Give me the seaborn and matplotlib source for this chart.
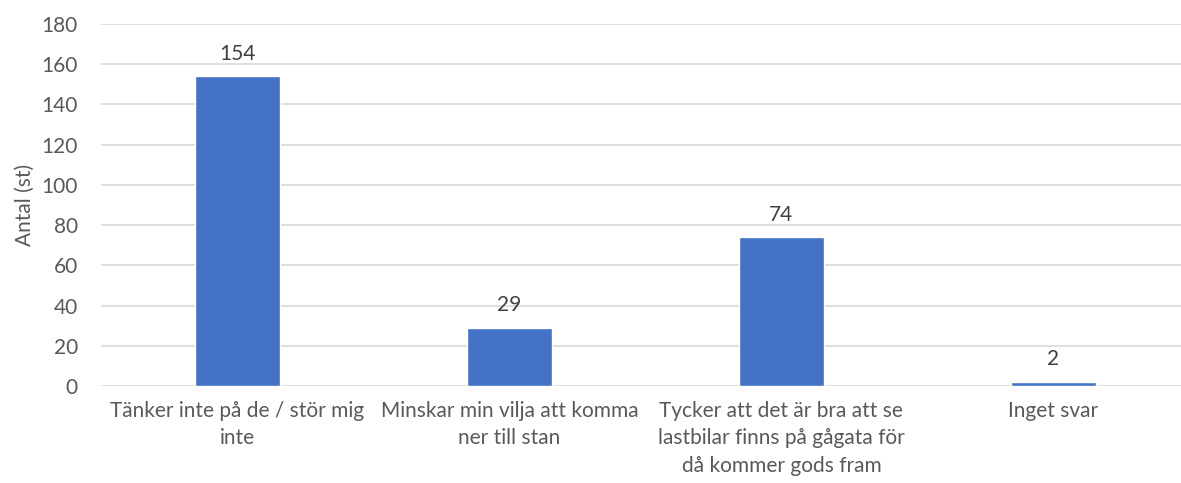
import matplotlib
matplotlib.use("Agg")
import matplotlib.pyplot as plt
import seaborn as sns
import pandas as pd

# data
categories = [
    "Tänker inte på de / stör mig\ninte",
    "Minskar min vilja att komma\nner till stan",
    "Tycker att det är bra att se\nlastbilar finns på gågata för\ndå kommer gods fram",
    "Inget svar",
]
values = [154, 29, 74, 2]
yticks = list(range(0, 181, 20))

sns.set_theme(style="white")
plt.rcParams["font.family"] = ["Lato", "DejaVu Sans"]
txt = "#595959"
bar_color = "#4472C4"

df = pd.DataFrame({"cat": categories, "val": values})

fig = plt.figure(figsize=(11.81, 4.83), dpi=100)
ax = fig.add_axes([0.0859, 0.2008, 0.9212, 0.7495])

sns.barplot(data=df, x="cat", y="val", color=bar_color, width=0.31,
            saturation=1, ax=ax, zorder=3)

ax.set_ylim(0, 180)
ax.set_yticks(yticks)
ax.yaxis.grid(True, color="#D9D9D9", linewidth=1.2, zorder=0)
ax.set_axisbelow(True)
for s in ax.spines.values():
    s.set_visible(False)

ax.tick_params(axis="both", length=0, colors=txt, labelsize=15)
ax.tick_params(axis="x", pad=11)
ax.tick_params(axis="y", pad=17)
for lab in ax.get_xticklabels():
    lab.set_linespacing(1.45)
    lab.set_va("top")

ax.set_xlabel("")
ax.set_ylabel("Antal (st)", color=txt, fontsize=15, labelpad=5)

ax.bar_label(ax.containers[0], padding=9, color="#404040", fontsize=15)

fig.savefig("out.png", dpi=100)
